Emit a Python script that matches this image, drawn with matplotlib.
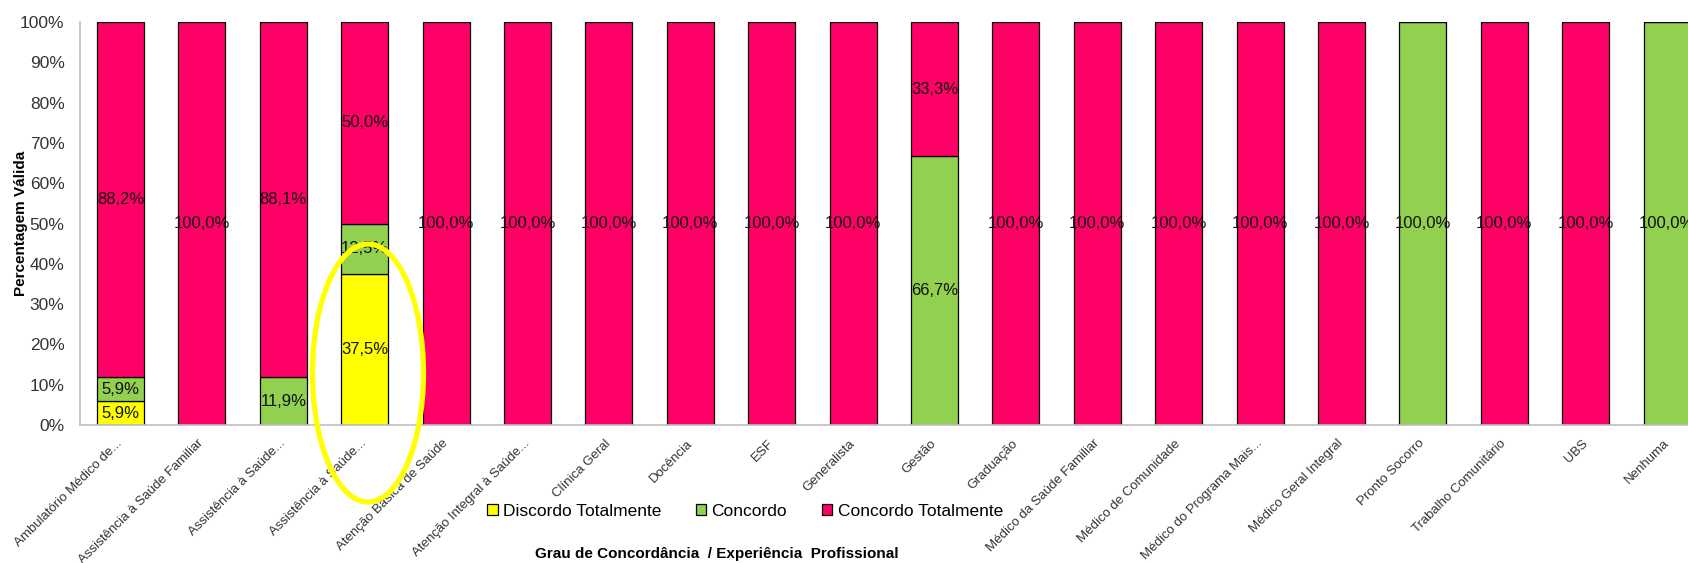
import matplotlib
matplotlib.use("Agg")
import matplotlib.pyplot as plt
import numpy as np
from matplotlib.patches import Ellipse

plt.rcParams["font.family"] = ["Liberation Sans", "DejaVu Sans"]

categories = [
    "Ambulatório Médico de...", "Assistência à Saúde Familiar", "Assistência à Saúde...",
    "Assistência à Saúde...", "Atenção Básica de Saúde", "Atenção Integral à Saúde...",
    "Clínica Geral", "Docência", "ESF", "Generalista", "Gestão", "Graduação",
    "Médico da Saúde Familiar", "Médico de Comunidade", "Médico do Programa Mais...",
    "Médico Geral Integral", "Pronto Socorro", "Trabalho Comunitário", "UBS", "Nenhuma",
]
discordo_tot = [5.9, 0, 0, 37.5, 0, 0, 0, 0, 0, 0, 0, 0, 0, 0, 0, 0, 0, 0, 0, 0]
concordo = [5.9, 0, 11.9, 12.5, 0, 0, 0, 0, 0, 0, 66.7, 0, 0, 0, 0, 0, 100, 0, 0, 100]
concordo_tot = [88.2, 100, 88.1, 50.0, 100, 100, 100, 100, 100, 100, 33.3,
                100, 100, 100, 100, 100, 0, 100, 100, 0]

series = [
    ("Discordo Totalmente", discordo_tot, "#FFFF00"),
    ("Concordo", concordo, "#92D050"),
    ("Concordo Totalmente", concordo_tot, "#FF0066"),
]

W, H = 1688, 563
fig = plt.figure(figsize=(W / 100, H / 100), dpi=100)
ax = fig.add_axes([79.8 / W, (H - 425) / H, 1628 / W, (425 - 22) / H])

x = np.arange(len(categories))
bottom = np.zeros(len(categories))
for name, vals, col in series:
    vals = np.array(vals, dtype=float)
    ax.bar(x, vals, 0.577, bottom=bottom, color=col, edgecolor="black",
           linewidth=0.9, label=name)
    for xi, v, b in zip(x, vals, bottom):
        if v > 0:
            ax.text(xi, b + v / 2, f"{v:.1f}%".replace(".", ","), ha="center",
                    va="center", fontsize=12, color="#111111")
    bottom += vals

ax.set_xlim(-0.5, 19.5)
ax.set_ylim(0, 100)
ax.set_yticks(np.arange(0, 101, 10))
ax.set_yticklabels([f"{v}%" for v in range(0, 101, 10)], fontsize=12.5, color="#333333")
ax.set_xticks(x)
ax.set_xticklabels(categories, rotation=45, ha="right", va="center",
                   rotation_mode="anchor", fontsize=9.5, color="#333333")
ax.tick_params(axis="x", length=0, pad=12)
ax.tick_params(axis="y", length=0, pad=11)
for s in ["top", "right"]:
    ax.spines[s].set_visible(False)
for s in ["left", "bottom"]:
    ax.spines[s].set_color("#bfbfbf")
    ax.spines[s].set_linewidth(1.2)

ax.set_ylabel("Percentagem Válida", fontsize=11, fontweight="bold")
ax.yaxis.set_label_coords(-(79.8 - 28) / 1628, 0.5)

fig.legend(loc="center", bbox_to_anchor=(745 / W, 1 - 511 / H), ncol=3,
           frameon=False, fontsize=12.5, handlelength=0.6, handleheight=0.6,
           handletextpad=0.3, columnspacing=2.0)

fig.text(717 / W, 1 - 554 / H, "Grau de Concordância  / Experiência  Profissional",
         ha="center", va="center", fontsize=11, fontweight="bold")

# yellow highlight ellipse
fig.add_artist(Ellipse((368 / W, 1 - 373 / H), 111 / W, 258 / H,
                       transform=fig.transFigure, fill=False,
                       edgecolor="#FFFF00", linewidth=3.8, zorder=10))

fig.savefig("out.png", dpi=100)
